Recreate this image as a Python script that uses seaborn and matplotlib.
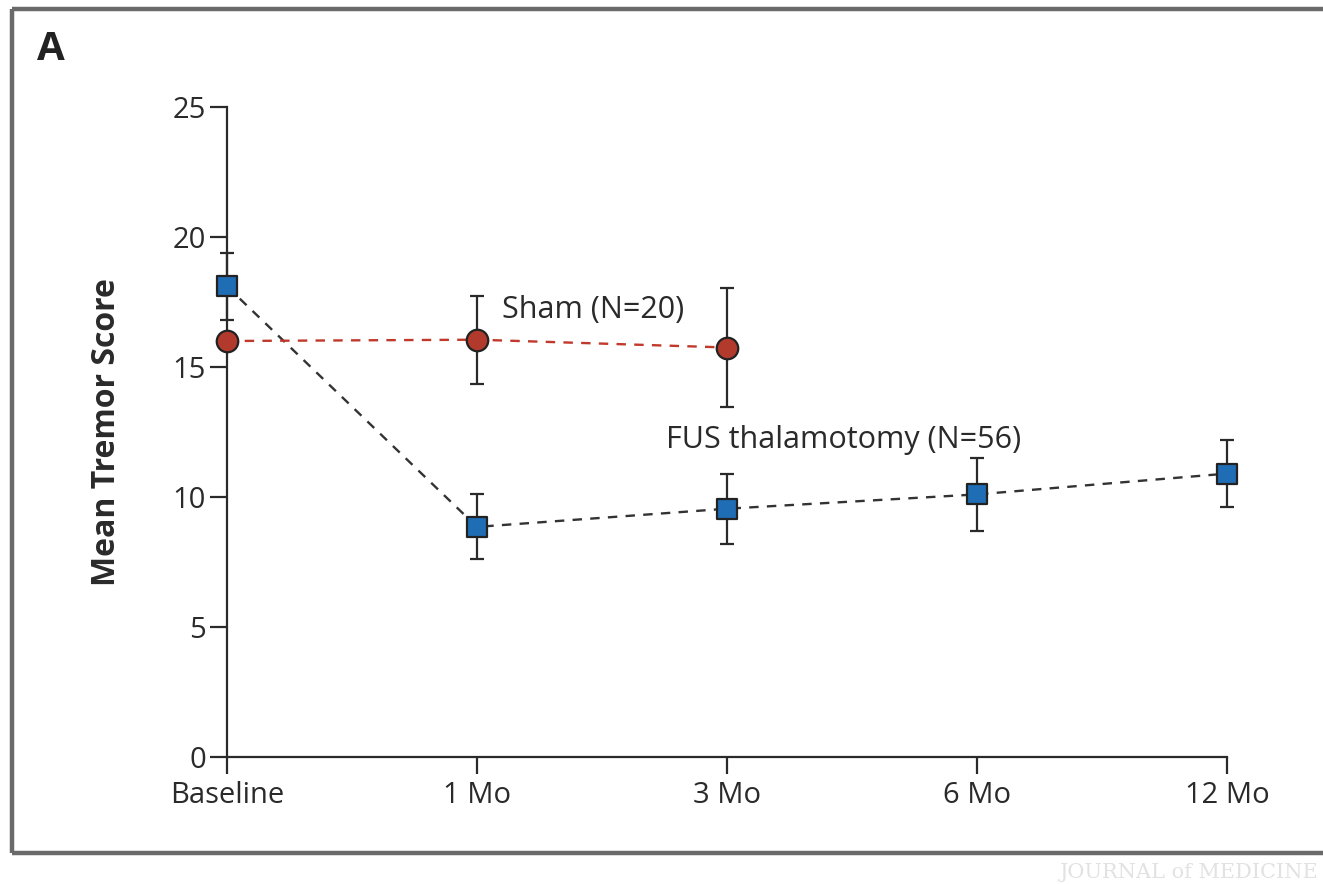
import numpy as np
import pandas as pd
import seaborn as sns
import matplotlib.pyplot as plt
from matplotlib.lines import Line2D

# values
timepoints = ['Baseline', '1 Mo', '3 Mo', '6 Mo', '12 Mo']
fus_mean = [18.1, 8.85, 9.55, 10.1, 10.9]
fus_err = [1.3, 1.25, 1.35, 1.4, 1.3]
sham_times = ['Baseline', '1 Mo', '3 Mo']
sham_mean = [16.0, 16.05, 15.75]
sham_err = [0.0, 1.7, 2.3]

blue = '#1f6db5'
red = '#b23a2c'

sns.set_theme(style='ticks')
plt.rcParams['font.family'] = ['Open Sans', 'DejaVu Sans']

fus = pd.DataFrame({'x': [timepoints.index(t) for t in timepoints], 'y': fus_mean, 'err': fus_err})
sham = pd.DataFrame({'x': [timepoints.index(t) for t in sham_times], 'y': sham_mean, 'err': sham_err})

fig = plt.figure(figsize=(13.23, 8.84), dpi=100)
ax = fig.add_axes([227/1323, 127/884, 1000/1323, 650/884])

# dashed connecting lines
sns.lineplot(data=fus, x='x', y='y', ax=ax, color='#333333', lw=1.7, linestyle=(0, (4, 3.5)), zorder=1)
sns.lineplot(data=sham, x='x', y='y', ax=ax, color='#c0392b', lw=1.7, linestyle=(0, (4, 3.5)), zorder=1)

# error bars
ax.errorbar(fus['x'], fus['y'], yerr=fus['err'], fmt='none', ecolor='#2a2a2a',
            elinewidth=1.6, capsize=5, capthick=1.6, zorder=2)
ax.errorbar(sham['x'], sham['y'], yerr=sham['err'], fmt='none', ecolor='#2a2a2a',
            elinewidth=1.6, capsize=5, capthick=1.6, zorder=2)

# markers
sns.scatterplot(data=fus, x='x', y='y', ax=ax, marker='s', s=210, color=blue,
                edgecolor='#222222', linewidth=1.6, zorder=3)
sns.scatterplot(data=sham, x='x', y='y', ax=ax, marker='o', s=240, color=red,
                edgecolor='#222222', linewidth=1.6, zorder=3)

ax.set_xlim(0, len(timepoints) - 1)
ax.set_ylim(0, 25)
ax.set_xticks(range(len(timepoints)))
ax.set_xticklabels(timepoints)
ax.set_yticks([0, 5, 10, 15, 20, 25])
for sp in ['top', 'right']:
    ax.spines[sp].set_visible(False)
for sp in ['left', 'bottom']:
    ax.spines[sp].set_linewidth(1.6)
    ax.spines[sp].set_color('#2a2a2a')
ax.tick_params(axis='both', direction='out', length=12, width=1.6, color='#2a2a2a',
               labelsize=21, labelcolor='#2a2a2a')
ax.tick_params(axis='x', pad=5)
ax.tick_params(axis='y', pad=3)
ax.set_xlabel('')
ax.set_ylabel('Mean Tremor Score', fontsize=23, fontweight='bold', color='#2a2a2a', labelpad=36)
for c in ax.collections:
    c.set_clip_on(False)
for l in ax.lines:
    l.set_clip_on(False)

ax.text(1.1, 17.2, 'Sham (N=20)', fontsize=22, color='#2a2a2a', va='center', ha='left')
ax.text(1.756, 12.2, 'FUS thalamotomy (N=56)', fontsize=22, color='#2a2a2a', va='center', ha='left')

fig.text(37/1323, 1 - 50/884, 'A', fontsize=29, fontweight='bold', color='#222222', va='center', ha='left')

# panel frame
frame = dict(color='#6a6a6a', lw=3.2, transform=fig.transFigure, solid_capstyle='butt')
fig.add_artist(Line2D([12/1323, 12/1323], [1 - 853/884, 1 - 9/884], **frame))
fig.add_artist(Line2D([12/1323, 1.0], [1 - 9/884, 1 - 9/884], **frame))
fig.add_artist(Line2D([12/1323, 1.0], [1 - 853/884, 1 - 853/884], **frame))

fig.text(1318/1323, 1 - 872/884, 'JOURNAL of MEDICINE', fontsize=15, color='#e2e2e2',
         family='DejaVu Serif', va='center', ha='right')

fig.savefig('out.png', dpi=100, facecolor='white')
